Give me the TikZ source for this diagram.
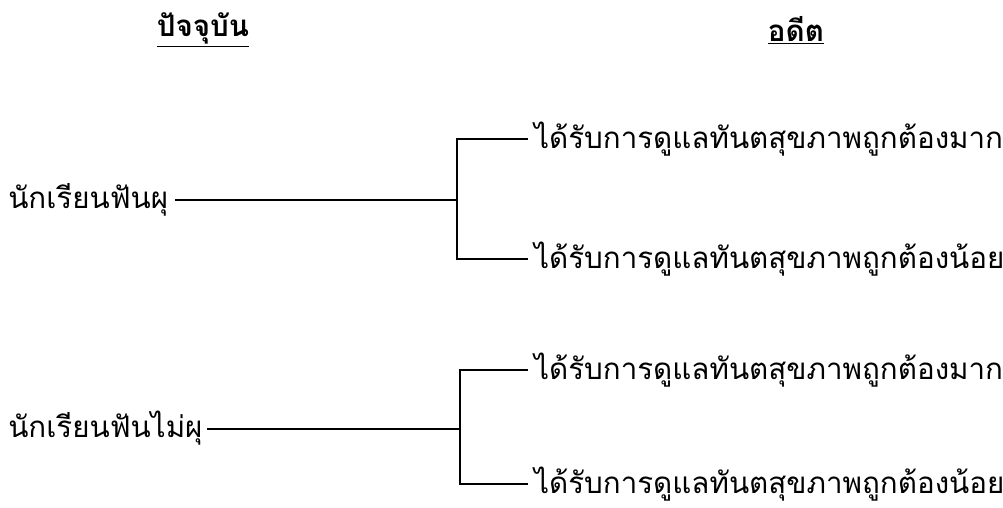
\documentclass[tikz,border=0pt]{standalone}
\usepackage{fontspec}
\newfontfamily\thaifont[Script=Thai]{Loma}
\usetikzlibrary{positioning}
\begin{document}
\begin{tikzpicture}[
x=0.025cm, y=-0.025cm,
headnode/.style={font=\thaifont\bfseries\fontsize{21}{24}\selectfont, inner sep=0pt},
textnode/.style={font=\thaifont\fontsize{21}{24}\selectfont, anchor=west, inner sep=0pt},
link/.style={line width=2pt, line cap=rect},
]
\useasboundingbox (0,0) rectangle (1003,507);
%nodes
\node[headnode](now) at (203, 30) {\underline{ปัจจุบัน}};
\node[headnode](past) at (796, 30) {\underline{อดีต}};
\node[textnode](caries) at (8, 200) {นักเรียนฟันผุ};
\node[textnode](nocaries) at (8, 428) {นักเรียนฟันไม่ผุ};
\node[textnode](c1) at (534, 139) {ได้รับการดูแลทันตสุขภาพถูกต้องมาก};
\node[textnode](c2) at (534, 259) {ได้รับการดูแลทันตสุขภาพถูกต้องน้อย};
\node[textnode](n1) at (534, 370) {ได้รับการดูแลทันตสุขภาพถูกต้องมาก};
\node[textnode](n2) at (534, 484) {ได้รับการดูแลทันตสุขภาพถูกต้องน้อย};
\coordinate (j1) at (457, 200);
\coordinate (j2) at (460, 429);
%connections
\draw[link] (176, 200) -- (j1);
\draw[link] (c1.west) ++(-7,0) -| (j1) |- ([xshift=-7*0.025cm]c2.west);
\draw[link] (208, 429) -- (j2);
\draw[link] (n1.west) ++(-7,0) -| (j2) |- ([xshift=-7*0.025cm]n2.west);
\end{tikzpicture}
\end{document}
